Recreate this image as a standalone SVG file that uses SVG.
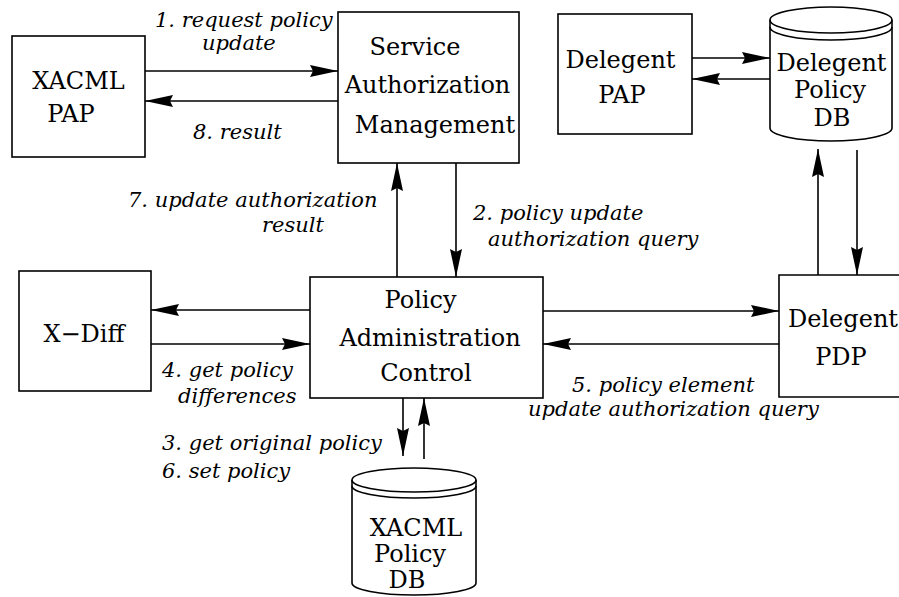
<svg xmlns="http://www.w3.org/2000/svg" width="899" height="597" viewBox="0 0 899 597">
<style>
.box{fill:#fff;stroke:#000;stroke-width:1.6}
.cyl{fill:#fff;stroke:#000;stroke-width:1.6}
.ln{fill:none;stroke:#000;stroke-width:1.6}
.nt{font-family:'DejaVu Serif',serif;font-size:24px;text-anchor:middle;fill:#000}
.lb{font-family:'DejaVu Serif',serif;font-size:21px;font-style:italic;fill:#000}
</style>
<defs>
<marker id="ah" markerUnits="userSpaceOnUse" markerWidth="28" markerHeight="12" refX="28" refY="6" orient="auto" overflow="visible">
<path d="M0,0 L28,6 L0,12 L3,6 Z" fill="#000"/>
</marker>
</defs>
<rect width="899" height="597" fill="#fff"/>

<g id="xacml-pap">
<rect class="box" x="12" y="36" width="133" height="121"/>
<text class="nt" x="78.5" y="89">XACML</text>
<text class="nt" x="71" y="122">PAP</text>
</g>

<g id="sam">
<rect class="box" x="338" y="12" width="181" height="151"/>
<text class="nt" x="415" y="55">Service</text>
<text class="nt" x="427.5" y="93">Authorization</text>
<text class="nt" x="435" y="133">Management</text>
</g>

<g id="delegent-pap">
<rect class="box" x="558" y="14" width="134" height="120"/>
<text class="nt" x="620.5" y="68">Delegent</text>
<text class="nt" x="622" y="103">PAP</text>
</g>

<g id="delegent-db">
<path class="cyl" d="M770,20 A61,13 0 0 1 892,20 L892,128 A61,13 0 0 1 770,128 Z"/>
<path class="ln" d="M770,20 A61,13 0 0 0 892,20"/>
<path class="ln" d="M770,27 A61,13 0 0 0 892,27"/>
<text class="nt" x="831.5" y="71">Delegent</text>
<text class="nt" x="830" y="98">Policy</text>
<text class="nt" x="832" y="126">DB</text>
</g>

<g id="xdiff">
<rect class="box" x="19" y="271" width="132" height="120"/>
<text class="nt" x="84" y="342">X−Diff</text>
</g>

<g id="pac">
<rect class="box" x="310" y="277" width="233" height="121"/>
<text class="nt" x="420.5" y="308">Policy</text>
<text class="nt" x="430" y="346">Administration</text>
<text class="nt" x="426" y="381">Control</text>
</g>

<g id="delegent-pdp">
<path class="ln" d="M902,275 L779,275 L779,397 L902,397"/>
<text class="nt" x="843" y="327">Delegent</text>
<text class="nt" x="841" y="365">PDP</text>
</g>

<g id="xacml-db">
<path class="cyl" d="M352,480 A62,12 0 0 1 476,480 L476,583 A62,12 0 0 1 352,583 Z"/>
<path class="ln" d="M352,480 A62,12 0 0 0 476,480"/>
<path class="ln" d="M352,486 A62,12 0 0 0 476,486"/>
<text class="nt" x="416" y="536">XACML</text>
<text class="nt" x="410" y="562">Policy</text>
<text class="nt" x="407" y="588">DB</text>
</g>

<g id="connectors">
<line class="ln" x1="145" y1="71" x2="338" y2="71" marker-end="url(#ah)"/>
<line class="ln" x1="338" y1="101" x2="145" y2="101" marker-end="url(#ah)"/>
<line class="ln" x1="692" y1="58" x2="770" y2="58" marker-end="url(#ah)"/>
<line class="ln" x1="770" y1="79" x2="692" y2="79" marker-end="url(#ah)"/>
<line class="ln" x1="456" y1="163" x2="456" y2="277" marker-end="url(#ah)"/>
<line class="ln" x1="397" y1="277" x2="397" y2="163" marker-end="url(#ah)"/>
<line class="ln" x1="310" y1="310" x2="151" y2="310" marker-end="url(#ah)"/>
<line class="ln" x1="151" y1="344" x2="310" y2="344" marker-end="url(#ah)"/>
<line class="ln" x1="543" y1="311" x2="779" y2="311" marker-end="url(#ah)"/>
<line class="ln" x1="779" y1="344" x2="543" y2="344" marker-end="url(#ah)"/>
<line class="ln" x1="818" y1="275" x2="818" y2="149" marker-end="url(#ah)"/>
<line class="ln" x1="857" y1="150" x2="857" y2="275" marker-end="url(#ah)"/>
<line class="ln" x1="403" y1="398" x2="403" y2="456" marker-end="url(#ah)"/>
<line class="ln" x1="424" y1="459" x2="424" y2="398" marker-end="url(#ah)"/>
</g>

<g id="labels">
<text class="lb" x="155" y="27">1. request policy</text>
<text class="lb" x="202" y="50">update</text>
<text class="lb" x="193" y="139">8. result</text>
<text class="lb" x="128" y="207">7. update authorization</text>
<text class="lb" x="262" y="232">result</text>
<text class="lb" x="473" y="220">2. policy update</text>
<text class="lb" x="488" y="246">authorization query</text>
<text class="lb" x="162" y="377">4. get policy</text>
<text class="lb" x="178" y="403">differences</text>
<text class="lb" x="572" y="392">5. policy element</text>
<text class="lb" x="528" y="416">update authorization query</text>
<text class="lb" x="162" y="450">3. get original policy</text>
<text class="lb" x="162" y="478">6. set policy</text>
</g>
</svg>
